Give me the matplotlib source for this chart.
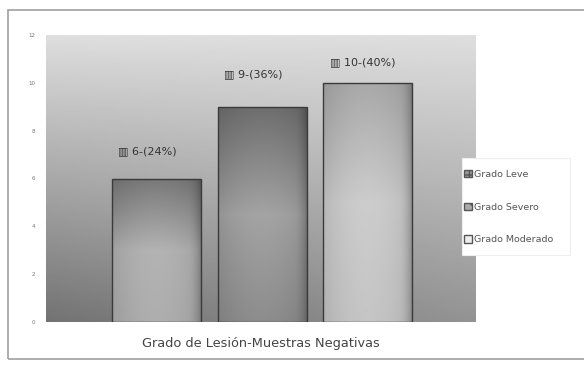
import numpy as np
import matplotlib.pyplot as plt
from matplotlib.patches import Rectangle

series = ["Grado Leve", "Grado Severo", "Grado Moderado"]
values = [6, 9, 10]
percents = [24, 36, 40]
yticks = [0, 2, 4, 6, 8, 10, 12]
xlabel = "Grado de Lesión-Muestras Negativas"

W, H = 584, 366
fig = plt.figure(figsize=(W / 100, H / 100), dpi=100)
# outer frame
fig.add_artist(Rectangle((8/W, 0.02), 1.2, 0.953, transform=fig.transFigure,
                         fill=False, edgecolor="#a0a0a0", lw=1.2))

ax = fig.add_axes([46/W, 1 - 322/H, 430/W, 287/H])
XMAX = 4.06
ax.set_xlim(0, XMAX)
ax.set_ylim(0, 12)

# background gradient: light at top, darker at bottom-left
yy, xx = np.mgrid[0:1:200j, 0:1:200j]
bg = 0.87 - 0.42 * yy * (1 - 0.3 * xx)
ax.imshow(bg, cmap="gray", vmin=0, vmax=1, extent=[0, XMAX, 0, 12],
          aspect="auto", zorder=0, origin="upper")

xs = np.arange(len(values)) + 0.62
bars = ax.bar(xs, values, width=0.84, align="edge", color="none",
              edgecolor="#3a3a3a", linewidth=1.0, zorder=3)

# shading for each bar (top, middle, bottom grey levels), clipped to the bar
shades = [(0.47, 0.70, 0.68), (0.43, 0.64, 0.55), (0.66, 0.80, 0.77)]
for b, (t, m, bo) in zip(bars, shades):
    x0, w, h = b.get_x(), b.get_width(), b.get_height()
    u = np.linspace(0, 1, 100)
    v = np.linspace(0, 1, 200)[:, None]
    horiz = 1 - 0.10 * (2 * u - 1) ** 2 - 0.18 * np.clip((u - 0.85) / 0.15, 0, 1) ** 2
    vert = np.interp(v, [0, 0.5, 1], [t, m, bo])
    img = vert * horiz
    im = ax.imshow(img, cmap="gray", vmin=0, vmax=1, extent=[x0, x0 + w, 0, h],
                   aspect="auto", origin="upper", zorder=2)
    im.set_clip_path(b)

label_dy = [1.15, 1.35, 0.85]
for b, v, p, dy in zip(bars, values, percents, label_dy):
    ax.text(b.get_x() + 0.06, v + dy, "▥ %d-(%d%%)" % (v, p), fontsize=8,
            color="#333333", va="center", ha="left", zorder=4)

ax.set_yticks(yticks)
ax.set_yticklabels([str(t) for t in yticks], fontsize=4, color="#777777")
ax.set_xticks([])
ax.tick_params(axis="y", length=0, pad=8)
for s in ax.spines.values():
    s.set_visible(False)

ax.set_xlabel(xlabel, fontsize=9.3, color="#444444", labelpad=11)

# legend box
fig.add_artist(Rectangle((462/W, 1 - 255/H), 108/W, 97/H, transform=fig.transFigure,
                         facecolor="white", edgecolor="#eeeeee", lw=0.8, zorder=1))
handles = [Rectangle((0, 0), 1, 1, facecolor=c, edgecolor="#555555", hatch=h)
           for c, h in zip(["#999999", "#aaaaaa", "#eeeeee"], ["+++", "xx", ""])]
leg = fig.legend(handles, series, loc="upper left",
                 bbox_to_anchor=(464/W, 1 - 170/H), fontsize=6.8,
                 frameon=False, handlelength=0.8, handleheight=0.8,
                 handletextpad=0.25, labelspacing=2.5, borderpad=0,
                 borderaxespad=0, labelcolor="#555555")
leg.set_zorder(5)

fig.savefig("out.png", dpi=100)
